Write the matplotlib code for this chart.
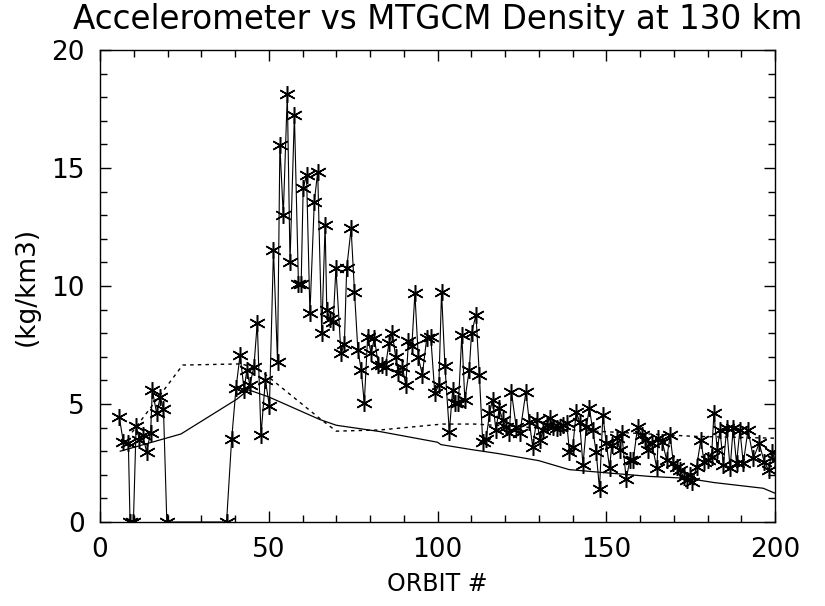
import matplotlib
matplotlib.use("Agg")
import matplotlib.pyplot as plt
from matplotlib.ticker import MultipleLocator

# Accelerometer density (orbit, kg/km3); 0 marks points clipped at the axis
orbit = [5.7, 6.9, 8.4, 8.9, 9.9, 10.7, 11.7, 12.6, 13.8, 15.0,
         15.5, 16.8, 17.8, 18.8, 19.8, 37.5, 39.0, 40.3, 41.5, 42.7,
         43.5, 44.4, 45.6, 46.6, 47.7, 49.0, 50.2, 51.4, 52.6, 53.3,
         54.3, 55.5, 56.3, 57.6, 58.8, 59.6, 60.2, 61.2, 62.2, 63.5,
         64.5, 65.7, 66.7, 67.2, 68.1, 69.1, 69.9, 71.4, 72.4, 73.1,
         74.4, 75.4, 76.4, 77.4, 78.3, 79.3, 80.3, 81.3, 82.5, 83.5,
         84.6, 85.6, 86.6, 87.6, 88.4, 89.6, 90.6, 91.4, 92.4, 93.3,
         94.3, 95.5, 96.8, 98.0, 99.2, 100.4, 101.2, 102.2, 103.5, 104.5,
         105.2, 106.2, 107.2, 108.1, 109.4, 110.1, 111.4, 112.4, 113.4, 114.4,
         115.4, 116.3, 117.3, 118.3, 119.3, 120.3, 121.3, 121.9, 123.3, 124.4,
         126.2, 127.2, 128.2, 129.4, 130.4, 131.4, 132.3, 133.3, 134.3, 135.3,
         136.3, 137.3, 138.3, 139.1, 140.1, 141.1, 142.1, 143.1, 144.1, 145.0,
         146.0, 147.0, 148.0, 149.0, 150.0, 151.0, 151.6, 153.1, 154.1, 154.6,
         155.9, 157.0, 158.0, 159.3, 160.5, 161.5, 162.5, 163.5, 165.0, 165.4,
         166.6, 167.9, 168.9, 169.9, 170.9, 171.9, 172.9, 173.8, 174.8, 175.5,
         176.8, 178.0, 179.0, 180.2, 181.2, 181.9, 182.9, 183.7, 184.7, 185.7,
         186.7, 187.6, 188.6, 189.6, 190.6, 192.0, 193.6, 195.3, 196.8, 198.1,
         199.1, 200.0]
density = [4.46, 3.40, 3.35, 0.0, 0.0, 4.07, 3.46, 3.68, 2.98, 3.78,
           5.59, 4.60, 5.28, 4.80, 0.0, 0.0, 3.50, 5.67, 7.08, 5.60,
           6.44, 5.80, 6.58, 8.45, 3.68, 6.02, 4.90, 11.53, 6.79, 15.97,
           13.00, 18.14, 11.03, 17.25, 10.08, 10.08, 14.14, 14.70, 8.84, 13.57,
           14.84, 8.00, 12.58, 8.98, 8.59, 8.49, 10.75, 7.15, 7.53, 10.75,
           12.44, 9.76, 7.29, 6.44, 5.03, 7.85, 7.15, 7.78, 6.65, 6.65,
           6.58, 7.58, 8.00, 7.00, 6.30, 6.58, 5.80, 7.65, 7.45, 9.69,
           7.00, 6.23, 7.78, 7.85, 5.45, 5.80, 9.76, 6.61, 3.83, 5.59,
           5.03, 5.03, 7.92, 5.17, 6.44, 8.02, 8.77, 6.23, 3.40, 3.50,
           4.60, 5.19, 3.90, 4.82, 4.32, 4.04, 3.76, 5.52, 4.04, 3.76,
           5.52, 4.25, 3.19, 4.32, 3.47, 3.90, 4.10, 4.39, 4.04, 3.97,
           4.04, 4.10, 4.18, 2.98, 3.19, 4.67, 4.25, 2.42, 4.04, 4.82,
           3.90, 2.98, 1.40, 4.53, 3.33, 2.28, 3.26, 3.55, 3.05, 3.76,
           1.81, 2.63, 2.63, 4.04, 3.68, 3.47, 3.05, 3.33, 2.27, 3.55,
           3.40, 2.63, 3.68, 2.49, 2.35, 2.20, 1.92, 1.78, 1.99, 1.71,
           2.35, 3.47, 2.56, 2.63, 2.77, 4.60, 3.05, 3.90, 2.42, 3.97,
           2.27, 3.97, 2.49, 3.90, 2.49, 3.90, 2.70, 3.33, 2.56, 2.20,
           2.97, 2.63]

# MTGCM model curves
model_orbit = [6, 24, 40.5, 44, 50, 65, 70, 83, 100, 101,
               110, 118, 130, 139, 152, 163, 174, 182, 196.5, 200]
model_solid = [3.0, 3.73, 5.2, 5.6, 5.3, 4.35, 4.1, 3.83, 3.38, 3.28,
               3.07, 2.9, 2.6, 2.22, 2.06, 1.93, 1.85, 1.67, 1.43, 1.22]
dash_orbit = [9.5, 24.5, 42, 47.4, 65, 70, 83, 101.5, 111, 140, 176, 200]
model_dashed = [3.8, 6.65, 6.7, 6.44, 4.4, 3.85, 3.9, 4.15, 4.15, 3.9, 3.63, 3.55]

plt.rcParams['font.family'] = ['DejaVu Sans']

fig = plt.figure(figsize=(8.25, 6.06), dpi=100)
ax = fig.add_axes([100 / 825, 1 - 522 / 606, 675 / 825, 472 / 606])

ax.plot(model_orbit, model_solid, color='black', lw=0.9)
ax.plot(dash_orbit, model_dashed, color='black', lw=1.0, ls=(0, (2.5, 3)))
ax.plot(orbit, density, color='black', lw=0.8,
        marker=(6, 2, 0), markersize=12, markeredgewidth=1.1)

ax.set_xlim(0, 200)
ax.set_ylim(0, 20)
ax.xaxis.set_major_locator(MultipleLocator(50))
ax.xaxis.set_minor_locator(MultipleLocator(10))
ax.yaxis.set_major_locator(MultipleLocator(5))
ax.yaxis.set_minor_locator(MultipleLocator(1))
ax.tick_params(which='both', direction='in', top=True, right=True,
               width=1.0, labelsize=19)
ax.tick_params(which='major', length=8)
ax.tick_params(which='minor', length=5)
ax.tick_params(axis='x', pad=11)
ax.tick_params(axis='y', pad=11)
for s in ax.spines.values():
    s.set_linewidth(1.0)

ax.set_xlabel('ORBIT #', fontsize=17, labelpad=6)
ax.set_ylabel('(kg/km3)', fontsize=19, labelpad=8)
ax.set_title('Accelerometer vs MTGCM Density at 130 km', fontsize=23.5,
             pad=15)

fig.savefig('out.png', dpi=100)
